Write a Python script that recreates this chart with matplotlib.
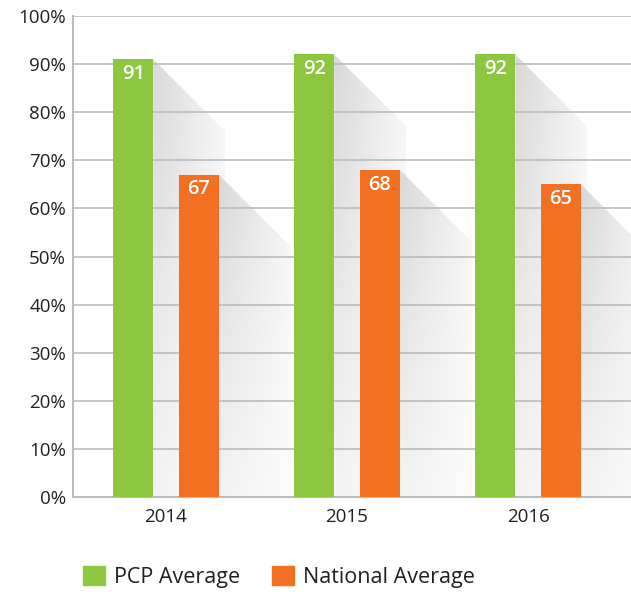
import matplotlib
matplotlib.use("Agg")
import matplotlib.pyplot as plt
from matplotlib.patches import Polygon, Patch
import numpy as np

plt.rcParams['font.family'] = ['Open Sans', 'DejaVu Sans']

# datos
anios = ["2014", "2015", "2016"]
pcp = [91, 92, 92]
nacional = [67, 68, 65]
etiquetas_y = [f"{v}%" for v in range(0, 101, 10)]

verde = "#8DC63F"
naranja = "#F36F21"
gris_linea = "#B9BCBF"
texto = "#231F20"

W, H = 631, 592
fig = plt.figure(figsize=(W / 100, H / 100), dpi=100)
ax = fig.add_axes([73 / W, (H - 497) / H, (W - 73) / W, (497 - 16) / H])

x = np.arange(len(anios))
ancho_barra = 0.221
desp = 0.181
xmin, xmax = -0.514, 2.569
ax.set_xlim(xmin, xmax)
ax.set_ylim(0, 100)

# cuanto vale un pixel en datos
px_x = (xmax - xmin) / (W - 73)
px_y = 100 / (497 - 16)
largo_sombra = 72

def sombra(xder, alto):
    """Sombra diagonal a la derecha de cada barra."""
    dx = largo_sombra * px_x
    dy = largo_sombra * px_y
    pts = [(xder, alto), (xder + dx, alto - dy), (xder + dx, 0), (xder, 0)]
    poli = Polygon(pts, closed=True, facecolor='none', edgecolor='none')
    ax.add_patch(poli)
    u = np.linspace(0, 1, 80)[None, :]
    v = np.linspace(0, 1, 200)[:, None]
    oscuro = 0.15 * (1 - 0.75 * u) * (1 - 0.7 * v)
    gris = 1 - oscuro
    img = np.dstack([gris, gris, gris])
    im = ax.imshow(img, extent=[xder, xder + dx, 0, alto], origin='upper',
                   aspect='auto', zorder=0.5, interpolation='bilinear')
    im.set_clip_path(poli)

for i in range(len(anios)):
    sombra(x[i] - desp + ancho_barra / 2, pcp[i])
    sombra(x[i] + desp + ancho_barra / 2, nacional[i])

ax.bar(x - desp, pcp, ancho_barra, color=verde, zorder=3, label="PCP Average")
ax.bar(x + desp, nacional, ancho_barra, color=naranja, zorder=3, label="National Average")

for i in range(len(anios)):
    ax.annotate(str(pcp[i]), (x[i] - desp, pcp[i]), xytext=(0, -10.5),
                textcoords='offset points', ha='center', va='center',
                color='white', fontsize=14.5, fontweight='semibold', zorder=4)
    ax.annotate(str(nacional[i]), (x[i] + desp, nacional[i]), xytext=(0, -10.5),
                textcoords='offset points', ha='center', va='center',
                color='white', fontsize=14.5, fontweight='semibold', zorder=4)

ax.set_yticks(range(0, 101, 10))
ax.set_yticklabels(etiquetas_y)
ax.set_xticks(x)
ax.set_xticklabels(anios)
ax.tick_params(axis='both', length=0, labelsize=13.5, labelcolor=texto)
ax.tick_params(axis='y', pad=5)
ax.tick_params(axis='x', pad=8)
ax.yaxis.grid(True, color=gris_linea, linewidth=1.2, zorder=1)
ax.set_axisbelow(False)
for lado in ['top', 'right']:
    ax.spines[lado].set_visible(False)
for lado in ['left', 'bottom']:
    ax.spines[lado].set_color(gris_linea)
    ax.spines[lado].set_linewidth(1.5)
    ax.spines[lado].set_zorder(2)
for linea in ax.get_ygridlines():
    linea.set_zorder(1)

manejadores = [Patch(color=verde, label="PCP Average"),
               Patch(color=naranja, label="National Average")]
fig.legend(handles=manejadores, loc='center left',
           bbox_to_anchor=(83 / W, 1 - 577 / H), ncol=2, frameon=False,
           fontsize=15.5, labelcolor=texto, handlelength=1.0, handleheight=1.0,
           handletextpad=0.42, columnspacing=1.5, borderaxespad=0,
           borderpad=0)

fig.savefig("out.png", dpi=100)
